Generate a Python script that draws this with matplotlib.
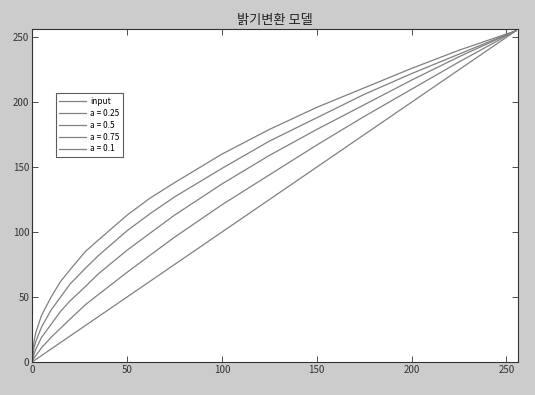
import matplotlib.pyplot as plt

plt.rcParams['font.family'] = ['Noto Sans CJK KR', 'DejaVu Sans']

# grey levels
x = [0, 1, 2, 5, 10, 15, 20, 28, 35, 50, 62, 75, 100, 125, 150, 175, 200, 225, 255]
y_input = [0, 1, 2, 5, 10, 15, 20, 28, 35, 50, 62, 75, 100, 125, 150, 175, 200, 225, 255]
y_a025 = [0, 3, 5, 11, 19, 26, 33, 44, 52, 69, 82, 96, 121, 144, 167, 189, 210, 231, 255]
y_a05 = [0, 6, 10, 19, 29, 39, 47, 58, 68, 86, 99, 113, 137, 159, 179, 198, 217, 235, 255]
y_a075 = [0, 11, 16, 27, 40, 50, 60, 72, 82, 101, 114, 127, 149, 170, 188, 206, 222, 237, 255]
y_a01 = [0, 16, 23, 36, 50, 62, 71, 85, 94, 113, 126, 138, 160, 179, 196, 211, 226, 240, 255]

labels = ['input', 'a = 0.25', 'a = 0.5', 'a = 0.75', 'a = 0.1']
series = [y_input, y_a025, y_a05, y_a075, y_a01]

fig = plt.figure(figsize=(5.35, 3.95), dpi=100, facecolor='#cccccc')
ax = fig.add_axes([0.060, 0.0835, 0.908, 0.842])

for ys, lab in zip(series, labels):
    ax.plot(x, ys, color='#808080', lw=0.9, label=lab)

ax.set_xlim(0, 256)
ax.set_ylim(0, 256)
ax.set_xticks([0, 50, 100, 150, 200, 250])
ax.set_yticks([0, 50, 100, 150, 200, 250])
ax.tick_params(direction='in', top=True, right=True, length=4, width=0.6,
               labelsize=7, colors='#333333', pad=2)
for s in ax.spines.values():
    s.set_linewidth(0.8)
    s.set_color('#333333')

ax.set_title('밝기변환 모델', fontsize=9.5, color='#222222', pad=4)

leg = ax.legend(loc='upper left', bbox_to_anchor=(0.04, 0.82), fontsize=6,
                frameon=True, fancybox=False, handlelength=3.2,
                borderpad=0.4, labelspacing=0.35, handletextpad=0.5)
leg.get_frame().set_edgecolor('#333333')
leg.get_frame().set_linewidth(0.8)

plt.savefig('out.png', dpi=100, facecolor=fig.get_facecolor())
